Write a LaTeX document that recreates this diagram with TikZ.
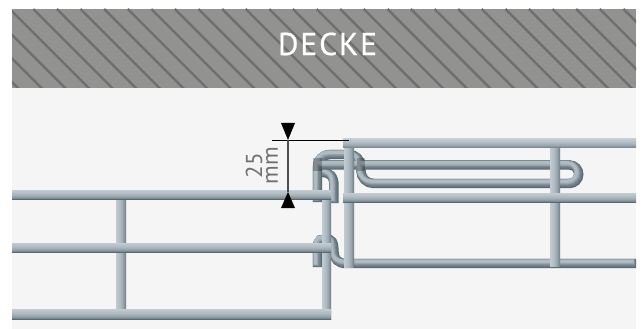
\documentclass[tikz,border=0pt]{standalone}
\usepackage{fontspec}
\setmainfont{PT Sans}
\definecolor{panelgray}{HTML}{F5F5F5}
\definecolor{ceilgray}{HTML}{929290}
\definecolor{hatchgray}{HTML}{6F6F6F}
\definecolor{labelgray}{HTML}{707070}
\definecolor{wireA}{HTML}{566973}
\definecolor{wireAB}{HTML}{6A7A84}
\definecolor{wireB}{HTML}{7A8891}
\definecolor{wireC}{HTML}{98A5AD}
\definecolor{wireD}{HTML}{B0BAC1}
\definecolor{wireE}{HTML}{C2CBD1}
\pgfdeclareverticalshading{hbarshade}{100bp}{color(0bp)=(wireA); color(25bp)=(wireA); color(30bp)=(wireB); color(40bp)=(wireC); color(55bp)=(wireD); color(75bp)=(wireE); color(100bp)=(wireE)}
\pgfdeclarehorizontalshading{vbarshade}{100bp}{color(0bp)=(wireE); color(25bp)=(wireE); color(45bp)=(wireD); color(60bp)=(wireC); color(70bp)=(wireB); color(75bp)=(wireA); color(100bp)=(wireA)}
\tikzset{
  hwire/.style={shading=hbarshade},
  vwire/.style={shading=vbarshade},
  overlap/.style={fill=black,opacity=0.25},
  hatchline/.style={hatchgray,line width=2.4pt},
  dimline/.style={black,line width=0.8pt},
}
\newcommand{\bentwire}[1]{
  \foreach \wd/\sh/\col in {9.4/0/wireA,8.2/-0.5/wireAB,6.6/-1.1/wireB,5/-1.7/wireC,3.2/-2.3/wireD}
    \draw[line width=\wd pt,color=\col,shift={(\sh,\sh)}] #1;
}
\begin{document}
\begin{tikzpicture}[x=1pt,y=-1pt]
\useasboundingbox (0,0) rectangle (641,329);
% ceiling and room
\fill[panelgray] (12,88) rectangle (636,329);
\fill[ceilgray] (12,9) rectangle (636,88);
\begin{scope}
\clip (12,9) rectangle (636,88);
\foreach \k in {-5,...,26}
  \draw[hatchline] ({33.3+23.6*\k},9) -- ++(80,80);
\end{scope}
\node[white,font=\fontsize{31.5}{31.5}\selectfont\addfontfeature{LetterSpace=6,FakeBold=0.5}] (ceiling) at (327.5,44) {DECKE};
% wires behind the bars
\bentwire{(317.5,267) -- (317.5,248) .. controls (317.5,240) and (322,237) .. (326,241.5) .. controls (332,236) and (334,244) .. (334,252) .. controls (334,259) and (338,263.5) .. (346,263.5) -- (636,263.5)}
\bentwire{(322,172.5) .. controls (330,172.5) and (334,176) .. (334,186) -- (334,203)}
\bentwire{(317.5,202) -- (317.5,167) arc (180:270:12.5) -- (349,154.5) arc (-90:0:12) -- (361,171) arc (180:90:12.5) -- (569.5,183.5) arc (90:-90:9.25) -- (316,165)}
\fill[overlap] (313,158) rectangle (322,171);
\fill[overlap] (357,158) rectangle (365,171);
% left grid
\shade[vwire] (116,199) rectangle (126,309);
\shade[vwire] (322,198) rectangle (331,319);
\shade[hwire] (12,190) rectangle (331,199);
\shade[hwire] (12,243) rectangle (331,252);
\shade[hwire] (12,309) rectangle (331,319);
% right grid
\shade[vwire] (344,148) rectangle (354,267);
\shade[vwire] (550,148) rectangle (560,266);
\shade[hwire] (343,139) rectangle (636,148);
\shade[hwire] (343,193) rectangle (636,202);
% dimension
\coordinate (dimtop) at (288,140);
\coordinate (dimbot) at (288,192);
\coordinate (dimleft) at (272,140);
\coordinate (dimright) at (349,140);
\draw[dimline] (dimleft) -- (dimright);
\draw[labelgray!70!black,line width=1.2pt] (dimtop) -- (dimbot);
\fill[black] (dimtop) -- (281,123) -- (295,123) -- cycle;
\fill[black] (dimbot) -- (281,208) -- (295,208) -- cycle;
\node[labelgray,rotate=90,font=\fontsize{23}{23}\selectfont] (dimvalue) at (254,166) {25};
\node[labelgray,rotate=90,font=\fontsize{23}{23}\selectfont] (dimunit) at (272,166) {mm};
\end{tikzpicture}
\end{document}
